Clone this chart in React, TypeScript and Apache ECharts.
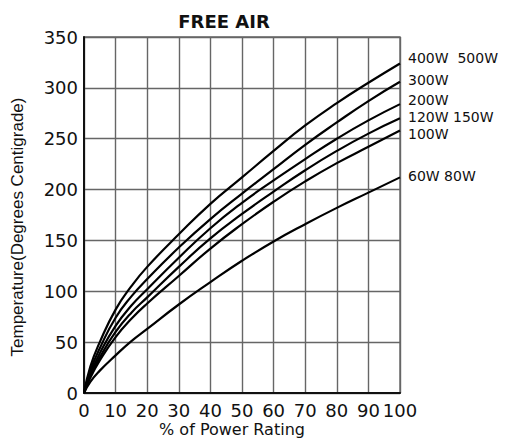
import React, { useEffect, useRef } from "react";
import * as echarts from "echarts";

const percent = [0, 2, 5, 10, 15, 20, 30, 40, 50, 60, 70, 80, 90, 100];
const w400_500 = [0, 26, 50, 82, 105, 124, 156, 186, 212, 238, 263, 285, 305, 324];
const w300 = [0, 22, 44, 74, 95, 112, 143, 171, 196, 220, 244, 266, 287, 306];
const w200 = [0, 19, 39, 66, 86, 102, 133, 162, 187, 209, 230, 250, 268, 284];
const w120_150 = [0, 17, 35, 60, 79, 94, 124, 152, 176, 198, 219, 238, 255, 270];
const w100 = [0, 15, 32, 55, 73, 88, 115, 142, 166, 188, 208, 226, 242, 258];
const w60_80 = [0, 11, 22, 37, 51, 63, 87, 109, 130, 149, 166, 182, 197, 212];

const seriesNames = ["400W  500W", "300W", "200W", "120W 150W", "100W", "60W 80W"];
const seriesValues = [w400_500, w300, w200, w120_150, w100, w60_80];
const labelOffsetY = [-5, -2, -4, -1, 3, -1];

const xTicks = [0, 10, 20, 30, 40, 50, 60, 70, 80, 90, 100];
const yTicks = [0, 50, 100, 150, 200, 250, 300, 350];

export default function App() {
  const ref = useRef<HTMLDivElement>(null);
  useEffect(() => {
    if (!ref.current) return;
    const chart = echarts.init(ref.current, undefined, { renderer: "svg" });
    const gridColor = "#666666";
    chart.setOption({
      animation: false,
      backgroundColor: "#ffffff",
      grid: { left: 84, top: 37, right: 122, bottom: 46, containLabel: false },
      xAxis: {
        type: "value",
        min: xTicks[0],
        max: xTicks[xTicks.length - 1],
        interval: 10,
        axisLine: { show: true, lineStyle: { color: "#111", width: 2 } },
        axisTick: { show: false },
        splitLine: { show: true, lineStyle: { color: gridColor, width: 1.4 } },
        axisLabel: {
          color: "#111",
          fontSize: 18,
          fontFamily: "DejaVu Sans",
          margin: 8,
          interval: 0,
          hideOverlap: false,
        },
      },
      yAxis: {
        type: "value",
        min: yTicks[0],
        max: yTicks[yTicks.length - 1],
        interval: 50,
        axisLine: { show: true, lineStyle: { color: "#111", width: 2 } },
        axisTick: { show: false },
        splitLine: { show: true, lineStyle: { color: gridColor, width: 1.4 } },
        axisLabel: {
          color: "#111",
          fontSize: 18,
          fontFamily: "DejaVu Sans",
          margin: 6,
        },
      },
      graphic: [
        {
          type: "rect",
          shape: { x: 84, y: 37, width: 316, height: 356 },
          style: { fill: "none", stroke: gridColor, lineWidth: 1.4 },
          silent: true,
          z: 0,
        },
        {
          type: "text",
          x: 224,
          y: 21,
          style: {
            text: "FREE AIR",
            fontSize: 18,
            fontWeight: "bold",
            fontFamily: "DejaVu Sans",
            fill: "#111",
            align: "center",
            verticalAlign: "middle",
          },
        },
        {
          type: "text",
          x: 232,
          y: 429,
          style: {
            text: "% of Power Rating",
            fontSize: 16,
            fontFamily: "DejaVu Sans",
            fill: "#111",
            align: "center",
            verticalAlign: "middle",
          },
        },
        {
          type: "text",
          x: 17,
          y: 227,
          rotation: Math.PI / 2,
          style: {
            text: "Temperature(Degrees Centigrade)",
            fontSize: 17,
            fontFamily: "Liberation Sans",
            fill: "#111",
            align: "center",
            verticalAlign: "middle",
          },
        },
      ],
      series: seriesValues.map((vals, i) => ({
        type: "line",
        name: seriesNames[i],
        data: percent.map((p, j) => [p, vals[j]]),
        smooth: 0.5,
        showSymbol: false,
        symbol: "none",
        lineStyle: { color: "#000", width: 2.2 },
        endLabel: {
          show: true,
          formatter: seriesNames[i],
          color: "#111",
          fontSize: 14,
          lineHeight: 13,
          fontFamily: "DejaVu Sans",
          distance: 8,
          offset: [0, labelOffsetY[i]],
        },
        z: 3,
      })),
    });
    return () => chart.dispose();
  }, []);
  return (
    <div
      ref={ref}
      style={{ position: "fixed", left: 0, top: 0, width: 522, height: 439 }}
    />
  );
}
